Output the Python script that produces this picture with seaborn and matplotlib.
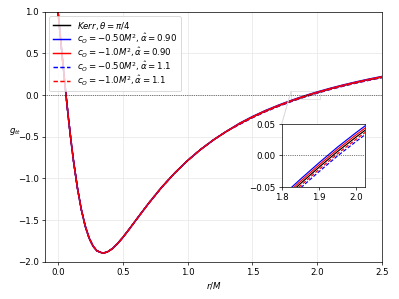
import matplotlib
matplotlib.use('Agg')
import matplotlib.pyplot as plt
import seaborn as sns
import pandas as pd
from mpl_toolkits.axes_grid1.inset_locator import mark_inset

# radial grid r/M and g_tt values
r_vals = [0.0, 0.02, 0.04, 0.06, 0.08, 0.10, 0.12, 0.15, 0.18, 0.21, 0.24, 0.27,
          0.30, 0.345, 0.38, 0.42, 0.46, 0.50, 0.55, 0.60, 0.70, 0.80, 0.90,
          1.00, 1.10, 1.20, 1.30,
          1.40, 1.50, 1.60, 1.70, 1.80, 1.85, 1.90, 1.95, 2.00, 2.05, 2.10,
          2.20, 2.30, 2.40, 2.50]

# inner part (r < 1.4): all curves overlap
g_inner = [1.0, 0.665, 0.337, 0.021, -0.276, -0.550, -0.799, -1.120, -1.378,
           -1.575, -1.718, -1.814, -1.871, -1.899, -1.885, -1.844, -1.783,
           -1.710, -1.610, -1.505, -1.299, -1.108, -0.938, -0.787, -0.655,
           -0.539, -0.437]

# outer part (r >= 1.4): curves split slightly (see inset)
g_kerr_out = [-0.347, -0.266, -0.194, -0.130, -0.072, -0.045, -0.019, 0.006,
              0.029, 0.051, 0.073, 0.113, 0.150, 0.184, 0.215]
g_b090_out = [-0.340, -0.259, -0.187, -0.123, -0.065, -0.038, -0.012, 0.013,
              0.036, 0.058, 0.080, 0.120, 0.157, 0.191, 0.222]
g_r090_out = [-0.3435, -0.2625, -0.1905, -0.1265, -0.0685, -0.0415, -0.0155,
              0.0095, 0.0325, 0.0545, 0.0765, 0.1165, 0.1535, 0.1875, 0.2185]
g_b11_out = [-0.354, -0.273, -0.201, -0.137, -0.079, -0.052, -0.026, -0.001,
             0.022, 0.044, 0.066, 0.106, 0.143, 0.177, 0.208]
g_r11_out = [-0.3505, -0.2695, -0.1975, -0.1335, -0.0755, -0.0485, -0.0225,
             0.0025, 0.0255, 0.0475, 0.0695, 0.1095, 0.1465, 0.1805, 0.2115]

labels = [r'$Kerr, \theta=\pi/4$',
          r'$c_O=-0.50M^2, \hat{\alpha}=0.90$',
          r'$c_O=-1.0M^2, \hat{\alpha}=0.90$',
          r'$c_O=-0.50M^2, \hat{\alpha}=1.1$',
          r'$c_O=-1.0M^2, \hat{\alpha}=1.1$']
colors = ['black', 'blue', 'red', 'blue', 'red']
dash_list = ['', '', '', (3.0, 1.6), (3.0, 1.6)]
outer = [g_kerr_out, g_b090_out, g_r090_out, g_b11_out, g_r11_out]

rows = []
for lab, g_out in zip(labels, outer):
    for r, g in zip(r_vals, g_inner + g_out):
        rows.append({'r': r, 'g': g, 'series': lab})
df = pd.DataFrame(rows)

palette = dict(zip(labels, colors))
dashes = dict(zip(labels, dash_list))

fig = plt.figure(figsize=(6.4, 4.8), dpi=62.35)
ax = fig.add_axes([0.113, 0.125, 0.844, 0.835])

sns.lineplot(data=df, x='r', y='g', hue='series', style='series',
             hue_order=labels, style_order=labels, palette=palette,
             dashes=dashes, sort=False, estimator=None, lw=1.7, ax=ax)

ax.axhline(0, color='k', ls=':', lw=0.8)
ax.set_xlim(-0.1, 2.5)
ax.set_ylim(-2.0, 1.0)
ax.set_xticks([0.0, 0.5, 1.0, 1.5, 2.0, 2.5])
ax.set_yticks([-2.0, -1.5, -1.0, -0.5, 0.0, 0.5, 1.0])
ax.grid(True, color='0.9', lw=0.8)
ax.set_xlabel('$r/M$')
ax.set_ylabel('$g_{tt}$', rotation=0)
ax.legend(loc='upper left', labelspacing=0.0, handlelength=2.0)

# inset zoom around the zero crossing
axins = fig.add_axes([0.706, 0.3746, 0.2095, 0.2107])
sns.lineplot(data=df, x='r', y='g', hue='series', style='series',
             hue_order=labels, style_order=labels, palette=palette,
             dashes=dashes, sort=False, estimator=None, lw=1.4, ax=axins,
             legend=False)
axins.axhline(0, color='k', ls=':', lw=0.8)
axins.set_xlim(1.8, 2.025)
axins.set_ylim(-0.05, 0.05)
axins.set_xticks([1.8, 1.9, 2.0])
axins.set_yticks([-0.05, 0.0, 0.05])
axins.set_xlabel('')
axins.set_ylabel('')
mark_inset(ax, axins, loc1=2, loc2=2, fc='none', ec='0.85', lw=0.8)

fig.savefig('out.png', dpi=62.35)
